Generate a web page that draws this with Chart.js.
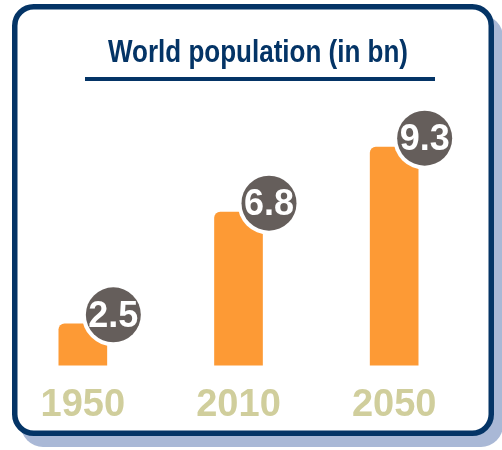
<!DOCTYPE html>
<html>
<head>
<meta charset="utf-8">
<title>World population</title>
<script src="https://cdn.jsdelivr.net/npm/chart.js@4/dist/chart.umd.min.js"></script>
<style>
  html, body { margin: 0; padding: 0; background: #ffffff; }
  #chart { display: block; }
</style>
</head>
<body>
<canvas id="chart" width="502" height="450"></canvas>
<script>
// World population, billions
const years = ['1950', '2010', '2050'];
const population = [2.5, 6.8, 9.3];
const titleText = 'World population (in bn)';

const NAVY = '#043466';
const SHADOW = '#a9b8d6';
const ORANGE = '#fd9a35';
const BUBBLE = '#655e5b';
const YEAR_COLOR = '#d0ce9c';

function roundRect(ctx, x, y, w, h, r) {
  ctx.beginPath();
  ctx.moveTo(x + r, y);
  ctx.lineTo(x + w - r, y);
  ctx.arcTo(x + w, y, x + w, y + r, r);
  ctx.lineTo(x + w, y + h - r);
  ctx.arcTo(x + w, y + h, x + w - r, y + h, r);
  ctx.lineTo(x + r, y + h);
  ctx.arcTo(x, y + h, x, y + h - r, r);
  ctx.lineTo(x, y + r);
  ctx.arcTo(x, y, x + r, y, r);
  ctx.closePath();
}

// Card frame with drop shadow, title and underline
const cardPlugin = {
  id: 'card',
  beforeDraw(chart) {
    const ctx = chart.ctx;
    ctx.save();
    // shadow
    ctx.fillStyle = SHADOW;
    roundRect(ctx, 21, 15, 482, 432, 22);
    ctx.fill();
    // card
    ctx.fillStyle = '#ffffff';
    roundRect(ctx, 14.75, 6.75, 476.5, 426.5, 19);
    ctx.fill();
    ctx.lineWidth = 5.5;
    ctx.strokeStyle = NAVY;
    ctx.stroke();
    // title (condensed bold)
    ctx.font = 'bold 31px "Liberation Sans", Arial, sans-serif';
    ctx.fillStyle = NAVY;
    ctx.textAlign = 'center';
    ctx.textBaseline = 'alphabetic';
    const w = ctx.measureText(titleText).width;
    const sx = 300 / w;
    ctx.translate(258, 61.5);
    ctx.scale(sx, 1);
    ctx.fillText(titleText, 0, 0);
    ctx.setTransform(1, 0, 0, 1, 0, 0);
    // underline
    ctx.fillRect(85, 77, 350, 4);
    ctx.restore();
  }
};

// Round value badges at the top-right corner of each bar
const badgePlugin = {
  id: 'badges',
  afterDatasetsDraw(chart) {
    const ctx = chart.ctx;
    const meta = chart.getDatasetMeta(0);
    ctx.save();
    meta.data.forEach((bar, i) => {
      const cx = bar.x + bar.width / 2 + 6.5;
      const cy = bar.y - 9;
      ctx.beginPath();
      ctx.arc(cx, cy, 31.5, 0, Math.PI * 2);
      ctx.fillStyle = '#ffffff';
      ctx.fill();
      ctx.beginPath();
      ctx.arc(cx, cy, 27.5, 0, Math.PI * 2);
      ctx.fillStyle = BUBBLE;
      ctx.fill();
      ctx.font = 'bold 36px "Liberation Sans", Arial, sans-serif';
      ctx.fillStyle = '#ffffff';
      ctx.textAlign = 'center';
      ctx.textBaseline = 'middle';
      ctx.fillText(population[i].toFixed(1), cx, cy + 2);
    });
    ctx.restore();
  }
};

new Chart(document.getElementById('chart'), {
  type: 'bar',
  data: {
    labels: years,
    datasets: [{
      data: population,
      backgroundColor: ORANGE,
      borderWidth: 0,
      borderRadius: 6,
      borderSkipped: false,
      barThickness: 48
    }]
  },
  options: {
    responsive: false,
    devicePixelRatio: 1,
    animation: false,
    layout: { padding: { left: 5, right: 30, top: 129, bottom: 5 } },
    plugins: {
      legend: { display: false },
      tooltip: { enabled: false },
      title: { display: false }
    },
    scales: {
      x: {
        grid: { display: false, drawTicks: false },
        border: { display: false },
        ticks: {
          padding: 17,
          color: YEAR_COLOR,
          font: { family: '"Liberation Sans", Arial, sans-serif', size: 38, weight: 'bold', lineHeight: 1.2 }
        }
      },
      y: {
        display: false,
        min: 0.9,
        max: 10
      }
    }
  },
  plugins: [cardPlugin, badgePlugin]
});
</script>
</body>
</html>
